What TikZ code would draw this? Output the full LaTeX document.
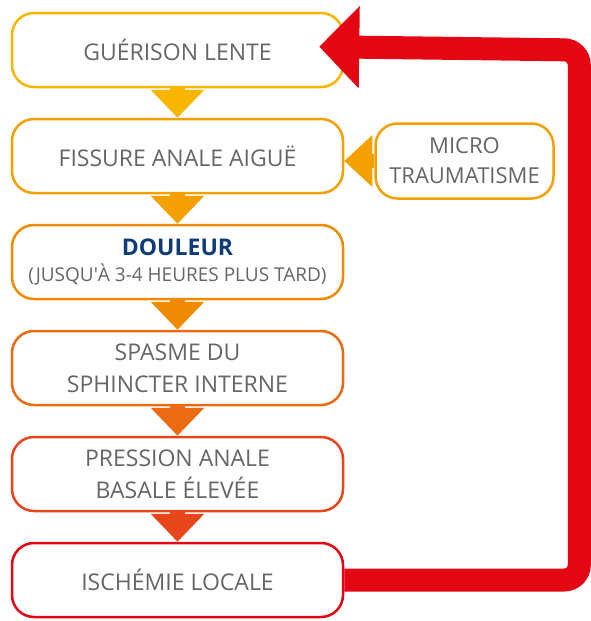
\documentclass[tikz,border=0pt]{standalone}
\usepackage{fontspec}
\setmainfont{Open Sans}
\usetikzlibrary{arrows.meta, positioning}
\definecolor{textgrey}{HTML}{666666}
\definecolor{painblue}{HTML}{0D3C78}
\definecolor{stageone}{HTML}{F9B500}
\definecolor{stagetwo}{HTML}{F4A000}
\definecolor{stagethree}{HTML}{F08A00}
\definecolor{stagefour}{HTML}{EB6B13}
\definecolor{stagefive}{HTML}{E6461A}
\definecolor{stagesix}{HTML}{E30613}
\tikzset{
    box/.style = {
      draw, line width=2.5pt, rounded corners=22pt, fill=white,
      minimum width=331pt, minimum height=74pt, align=center,
      text=textgrey, font=\fontsize{23}{32}\selectfont,
    },
    side box/.style = {box, minimum width=178pt, minimum height=75pt,
      font=\fontsize{22}{30}\selectfont},
    flow/.style = {line width=15pt, arrows={-Triangle[width=52pt, length=28pt]}},
    feed/.style = {line width=14pt, arrows={-Triangle[width=50pt, length=28pt]}},
    loop back/.style = {line width=23pt, stagesix, rounded corners=15pt,
      arrows={-Triangle[width=80pt, length=40pt]}, shorten >=-25pt},
}

\begin{document}
\begin{tikzpicture}
    \useasboundingbox (0pt, 0pt) rectangle (590pt, -621pt);

    %% The chain of stages, top to bottom
    \node [box, draw=stageone] (heal) at (177.5pt, -50pt) {GUÉRISON LENTE};
    \node [box, draw=stagetwo, below=29.5pt of heal] (fissure) {FISSURE ANALE AIGUË};
    \node [box, draw=stagethree, below=29.5pt of fissure] (pain)
          {\textcolor{painblue}{\bfseries DOULEUR}\\[-6pt]
           {\fontsize{19}{24}\selectfont (JUSQU\textquotesingle À 3-4 HEURES PLUS TARD)}};
    \node [box, draw=stagefour, below=29.5pt of pain] (spasm)
          {SPASME DU\\SPHINCTER INTERNE};
    \node [box, draw=stagefive, below=29.5pt of spasm] (pressure)
          {PRESSION ANALE\\BASALE ÉLEVÉE};
    \node [box, draw=stagesix, below=29.5pt of pressure] (ischemia) {ISCHÉMIE LOCALE};

    %% The outside cause
    \node [side box, draw=stagetwo, right=30pt of fissure, yshift=-5pt] (micro)
          {MICRO\\TRAUMATISME};

    %% Arrows down the chain
    \draw [flow, stageone] (heal.south) -- (fissure.north);
    \draw [flow, stagetwo] (fissure.south) -- (pain.north);
    \draw [flow, stagethree] (pain.south) -- (spasm.north);
    \draw [flow, stagefour] (spasm.south) -- (pressure.north);
    \draw [flow, stagefive] (pressure.south) -- (ischemia.north);
    \draw [feed, stagetwo] (micro.west) -- (fissure.east |- micro.west);

    %% The vicious circle back to the top
    \coordinate (rail) at ([xshift=235pt] ischemia.east);
    \draw [loop back] (ischemia.east) -- (rail) -- (rail |- heal.east)
      -- ([yshift=3pt] heal.east);
\end{tikzpicture}
\end{document}
